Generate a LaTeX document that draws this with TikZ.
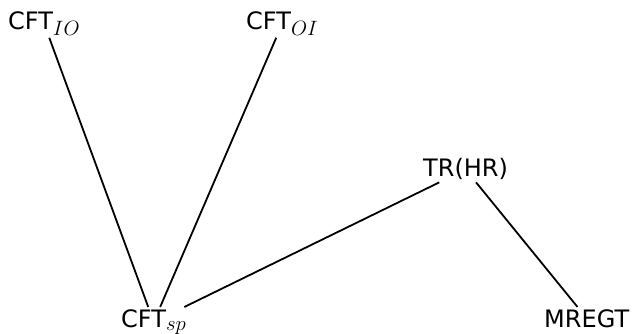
\documentclass[tikz,border=0pt]{standalone}
\usepackage{fontspec}
\setmainfont{DejaVu Sans}
\usepackage{tikz}
\newcommand{\lblsub}[1]{$_{\hbox{\fontsize{20}{22}\selectfont$#1$}}$}

\begin{document}
\begin{tikzpicture}[
  x=1pt, y=-1pt,
  font=\fontsize{24}{28}\selectfont,
  lbl/.style={inner sep=2pt, anchor=base west},
  link/.style={line width=1.8pt}
]
\useasboundingbox (0,0) rectangle (633,334);
\node[lbl] (cftio) at (6,30) {CFT\lblsub{IO}};
\node[lbl] (cftoi) at (244,30) {CFT\lblsub{OI}};
\node[lbl] (trhr) at (421,177) {TR(HR)};
\node[lbl] (cftsp) at (119,327) {CFT\lblsub{sp}};
\node[lbl] (mregt) at (542,327) {MREGT};
\draw[link] (cftio) -- (cftsp);
\draw[link] (cftoi) -- (cftsp);
\draw[link] (trhr) -- (cftsp);
\draw[link] (trhr) -- (mregt);
\end{tikzpicture}
\end{document}
